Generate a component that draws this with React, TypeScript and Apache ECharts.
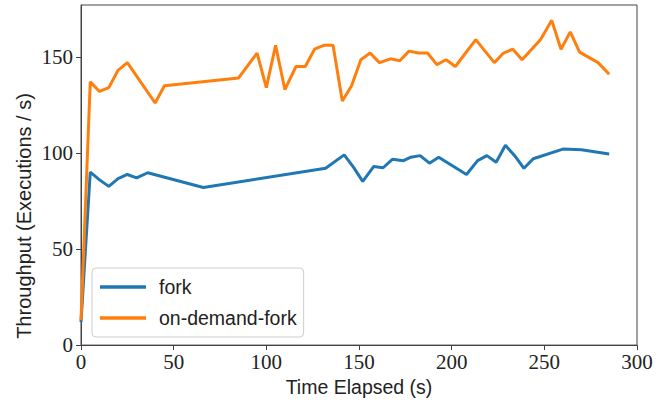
import React, { useEffect, useRef } from "react";
import * as echarts from "echarts";

const forkTimes = [0, 5, 10, 15, 20, 25, 30, 36, 66, 132, 142, 147, 152, 158, 163, 168, 174, 178, 183, 188, 193, 208, 214, 219, 224, 229, 234, 239, 244, 260, 270, 285];
const forkValues = [12, 90, 86, 82.6, 86.6, 88.8, 87, 89.7, 82, 92, 99, 92.6, 85.2, 93, 92.3, 96.7, 96, 97.8, 98.6, 94.7, 97.8, 88.8, 96, 98.6, 95.2, 104, 98.6, 92, 97, 102, 101.7, 99.5];

const odfTimes = [0, 5, 10, 15, 20, 25, 40, 45, 85, 95, 100, 105, 110, 116, 121, 126, 131, 136, 141, 146, 151, 156, 161, 167, 172, 177, 182, 187, 192, 197, 202, 213, 223, 228, 233, 238, 248, 254, 259, 264, 269, 279, 285];
const odfValues = [13, 137, 132, 134, 143, 147, 126, 135, 139, 152, 134, 156, 133, 145, 145, 154, 156, 156, 127, 135, 148.5, 152, 147, 149, 148, 153, 152, 152, 146, 148.5, 145, 159, 147, 152, 154, 148.5, 159, 169, 154, 163, 152.5, 147, 141];

const xTicks = [0, 50, 100, 150, 200, 250, 300];
const yTicks = [0, 50, 100, 150];

const pair = (xs: number[], ys: number[]) => xs.map((x, i) => [x, ys[i]]);

export default function App() {
  const ref = useRef<HTMLDivElement>(null);
  useEffect(() => {
    const chart = echarts.init(ref.current!, null, { renderer: "svg" });
    const serif = "'Liberation Serif', 'DejaVu Serif', serif";
    const sans = "'Liberation Sans', 'DejaVu Sans', sans-serif";
    const axisColor = "#444";
    chart.setOption({
      animation: false,
      backgroundColor: "#fff",
      grid: {
        left: 81,
        right: 28,
        top: 5,
        bottom: 54,
        show: true,
        borderColor: axisColor,
        borderWidth: 1,
      },
      graphic: [
        {
          type: "text",
          x: 24,
          y: 216,
          rotation: Math.PI / 2,
          style: {
            text: "Throughput (Executions / s)",
            fontFamily: sans,
            fontSize: 20,
            fill: "#222",
            align: "center",
            verticalAlign: "middle",
          },
        },
      ],
      legend: {
        orient: "vertical",
        left: 92,
        top: 268,
        data: [
          { name: "fork", icon: "rect" },
          { name: "on-demand-fork", icon: "rect" },
        ],
        itemWidth: 46,
        itemHeight: 3.5,
        itemGap: 11,
        padding: [9, 7, 9, 8],
        backgroundColor: "rgba(255,255,255,0.8)",
        borderColor: "#cccccc",
        borderWidth: 1,
        borderRadius: 4,
        textStyle: { fontFamily: sans, fontSize: 19.5, color: "#222", lineHeight: 20, padding: [0, 0, 0, 8] },
      },
      xAxis: {
        type: "value",
        min: 0,
        max: 300,
        interval: 50,
        name: "Time Elapsed (s)",
        nameLocation: "middle",
        nameGap: 30,
        nameTextStyle: { fontFamily: sans, fontSize: 19.5, color: "#222" },
        axisLine: { show: true, lineStyle: { color: axisColor, width: 1 } },
        axisTick: { show: true, length: 5, lineStyle: { color: axisColor }, customValues: xTicks },
        axisLabel: { fontFamily: serif, fontSize: 21, color: "#222", margin: 6, customValues: xTicks },
        splitLine: { show: false },
      },
      yAxis: {
        type: "value",
        min: 0,
        max: 177,
        interval: 50,
        axisLine: { show: true, lineStyle: { color: axisColor, width: 1 } },
        axisTick: { show: true, length: 5, lineStyle: { color: axisColor }, customValues: yTicks },
        axisLabel: { fontFamily: serif, fontSize: 21, color: "#222", margin: 8, customValues: yTicks },
        splitLine: { show: false },
      },
      series: [
        {
          name: "fork",
          type: "line",
          data: pair(forkTimes, forkValues),
          showSymbol: false,
          symbol: "none",
          lineStyle: { color: "#1f77b4", width: 3 },
          itemStyle: { color: "#1f77b4" },
        },
        {
          name: "on-demand-fork",
          type: "line",
          data: pair(odfTimes, odfValues),
          showSymbol: false,
          symbol: "none",
          lineStyle: { color: "#ff7f0e", width: 3 },
          itemStyle: { color: "#ff7f0e" },
        },
      ],
    });
    return () => chart.dispose();
  }, []);
  return <div ref={ref} style={{ width: 665, height: 402, position: "absolute", left: 0, top: 0 }} />;
}
